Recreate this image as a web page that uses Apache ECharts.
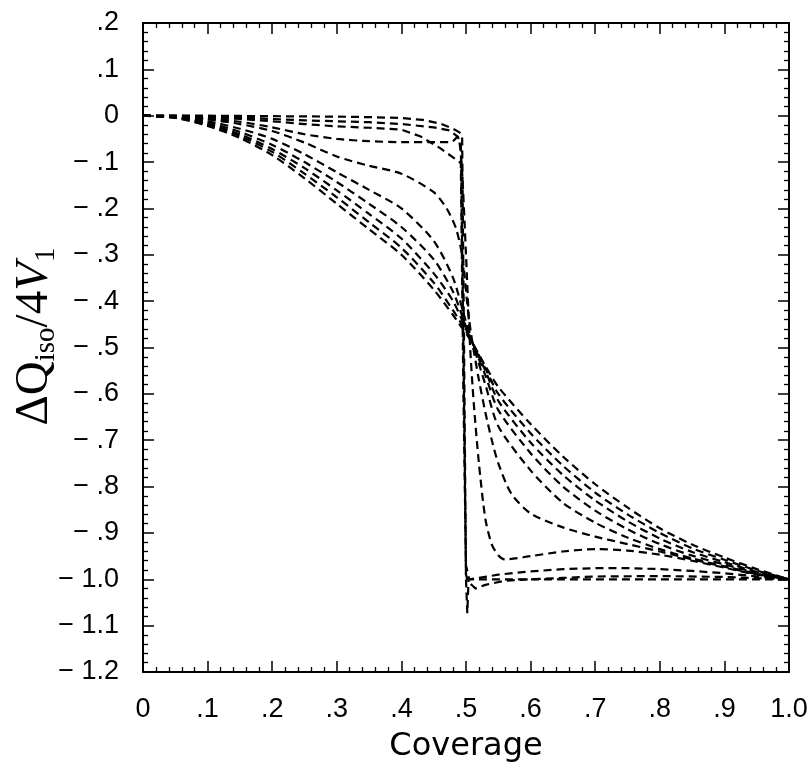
<!DOCTYPE html>
<html>
<head>
<meta charset="utf-8">
<script src="https://cdn.jsdelivr.net/npm/echarts@6/dist/echarts.min.js"></script>
<style>
html,body{margin:0;padding:0;background:#fff;}
#chart{width:807px;height:773px;}
</style>
</head>
<body>
<div id="chart"></div>
<script>
// Tick labels
const coverageTickLabels = ['0', '.1', '.2', '.3', '.4', '.5', '.6', '.7', '.8', '.9', '1.0'];
const deltaQTickLabels = ['\u2212 1.2', '\u2212 1.1', '\u2212 1.0', '\u2212 .9', '\u2212 .8', '\u2212 .7', '\u2212 .6',
  '\u2212 .5', '\u2212 .4', '\u2212 .3', '\u2212 .2', '\u2212 .1', '0', '.1', '.2'];

// Curves: [coverage, ΔQiso/4V1], lowest temperature (curve1) to highest (curve10)
const curve1 = [[0,0],[0.1,0],[0.2,-0.001],[0.3,-0.002],[0.35,-0.003],[0.4,-0.005],[0.433,-0.009],[0.46,-0.017],[0.48,-0.028],[0.49,-0.036],[0.494,-0.042],
  [0.497,-0.5],[0.5,-1.0],[0.502,-1.073],[0.504,-1.0],[0.52,-1.0],[0.6,-1.0],[0.7,-1.0],[0.8,-1.0],[0.9,-1.0],[1,-1.0]];
const curve2 = [[0,0],[0.05,0],[0.1,-0.002],[0.15,-0.004],[0.2,-0.007],[0.25,-0.01],[0.3,-0.012],[0.35,-0.014],[0.4,-0.018],[0.45,-0.025],[0.475,-0.032],[0.487,-0.045],
  [0.492,-0.06],[0.496,-0.5],[0.5,-0.99],[0.503,-1.005],[0.515,-1.02],[0.53,-1.012],[0.56,-1.003],[0.6,-1.0],[0.65,-0.997],[0.7,-0.994],[0.8,-0.993],[0.9,-0.995],[1,-1.0]];
const curve3 = [[0,0],[0.05,-0.001],[0.1,-0.003],[0.15,-0.007],[0.2,-0.012],[0.25,-0.018],[0.3,-0.023],[0.35,-0.026],[0.4,-0.03],[0.43,-0.045],[0.46,-0.07],[0.492,-0.102],
  [0.496,-0.6],[0.5,-0.97],[0.505,-1.0],[0.52,-0.997],[0.55,-0.99],[0.6,-0.983],[0.65,-0.978],[0.7,-0.976],[0.75,-0.976],[0.8,-0.978],[0.85,-0.982],[0.9,-0.987],[0.95,-0.994],[1,-1.0]];
const curve4 = [[0,0],[0.05,-0.002],[0.1,-0.006],[0.15,-0.013],[0.2,-0.025],[0.25,-0.04],[0.3,-0.05],[0.35,-0.055],[0.4,-0.057],[0.45,-0.057],[0.477,-0.057],[0.487,-0.045],
  [0.493,-0.1],[0.5,-0.3],[0.506,-0.49],[0.512,-0.62],[0.52,-0.75],[0.53,-0.87],[0.54,-0.925],[0.55,-0.948],[0.56,-0.957],[0.6,-0.95],[0.65,-0.94],[0.7,-0.935],
  [0.75,-0.938],[0.8,-0.947],[0.85,-0.96],[0.9,-0.975],[0.95,-0.99],[1,-1.0]];
const curve5 = [[0,0],[0.05,-0.002],[0.1,-0.008],[0.15,-0.018],[0.2,-0.033],[0.25,-0.058],[0.3,-0.088],[0.35,-0.108],[0.4,-0.125],[0.45,-0.165],[0.47,-0.2],[0.485,-0.245],
  [0.495,-0.31],[0.503,-0.42],[0.51,-0.49],[0.52,-0.57],[0.53,-0.64],[0.54,-0.7],[0.55,-0.75],[0.57,-0.815],[0.6,-0.858],[0.65,-0.888],[0.7,-0.908],[0.75,-0.924],
  [0.8,-0.94],[0.85,-0.957],[0.9,-0.973],[0.95,-0.989],[1,-1.0]];
const curve6 = [[0,0],[0.05,-0.003],[0.1,-0.012],[0.15,-0.028],[0.2,-0.05],[0.25,-0.083],[0.3,-0.122],[0.35,-0.16],[0.4,-0.2],[0.45,-0.27],[0.48,-0.35],[0.5,-0.445],
  [0.51,-0.49],[0.53,-0.58],[0.55,-0.67],[0.6,-0.765],[0.65,-0.835],[0.7,-0.878],[0.75,-0.91],[0.8,-0.935],[0.85,-0.955],[0.9,-0.972],[0.95,-0.988],[1,-1.0]];
const curve7 = [[0,0],[0.05,-0.003],[0.1,-0.015],[0.15,-0.035],[0.2,-0.063],[0.25,-0.1],[0.3,-0.143],[0.35,-0.19],[0.4,-0.24],[0.45,-0.31],[0.48,-0.38],[0.5,-0.455],
  [0.51,-0.49],[0.53,-0.56],[0.55,-0.635],[0.6,-0.728],[0.65,-0.8],[0.7,-0.852],[0.75,-0.892],[0.8,-0.924],[0.85,-0.949],[0.9,-0.968],[0.95,-0.986],[1,-1.0]];
const curve8 = [[0,0],[0.05,-0.004],[0.1,-0.018],[0.15,-0.04],[0.2,-0.072],[0.25,-0.113],[0.3,-0.161],[0.35,-0.212],[0.4,-0.265],[0.45,-0.34],[0.48,-0.4],[0.5,-0.46],
  [0.51,-0.49],[0.53,-0.55],[0.55,-0.615],[0.6,-0.705],[0.65,-0.775],[0.7,-0.83],[0.75,-0.875],[0.8,-0.912],[0.85,-0.941],[0.9,-0.963],[0.95,-0.984],[1,-1.0]];
const curve9 = [[0,0],[0.05,-0.004],[0.1,-0.02],[0.15,-0.044],[0.2,-0.078],[0.25,-0.125],[0.3,-0.176],[0.35,-0.23],[0.4,-0.285],[0.45,-0.36],[0.48,-0.42],[0.5,-0.465],
  [0.51,-0.49],[0.53,-0.545],[0.55,-0.6],[0.6,-0.685],[0.65,-0.755],[0.7,-0.813],[0.75,-0.86],[0.8,-0.9],[0.85,-0.933],[0.9,-0.958],[0.95,-0.981],[1,-1.0]];
const curve10 = [[0,0],[0.05,-0.005],[0.1,-0.022],[0.15,-0.048],[0.2,-0.085],[0.25,-0.135],[0.3,-0.19],[0.35,-0.245],[0.4,-0.3],[0.45,-0.375],[0.48,-0.43],[0.5,-0.47],
  [0.51,-0.49],[0.53,-0.54],[0.55,-0.585],[0.6,-0.665],[0.65,-0.735],[0.7,-0.795],[0.75,-0.845],[0.8,-0.89],[0.85,-0.925],[0.9,-0.953],[0.95,-0.978],[1,-1.0]];

const curves = [curve1, curve2, curve3, curve4, curve5, curve6, curve7, curve8, curve9, curve10];

const chart = echarts.init(document.getElementById('chart'), null, {renderer: 'canvas'});

const tickFont = {fontFamily: 'Liberation Sans', fontSize: 27, color: '#000'};
const axisLineStyle = {color: '#000', width: 2};

function xAxisCfg(pos, showLabel) {
  return {
    type: 'value', position: pos, min: 0, max: 1, interval: 0.1,
    axisLine: {show: true, onZero: false, lineStyle: axisLineStyle},
    axisTick: {show: true, inside: true, length: 11, lineStyle: {color: '#000', width: 1.5}},
    minorTick: {show: true, splitNumber: 5, length: 5, lineStyle: {color: '#000', width: 1.3}},
    splitLine: {show: false}, minorSplitLine: {show: false},
    axisLabel: Object.assign({show: showLabel, margin: 24,
      formatter: v => coverageTickLabels[Math.round(v * 10)]}, tickFont)
  };
}
function yAxisCfg(pos, showLabel) {
  return {
    type: 'value', position: pos, min: -1.2, max: 0.2, interval: 0.1,
    axisLine: {show: true, onZero: false, lineStyle: axisLineStyle},
    axisTick: {show: true, inside: true, length: 11, lineStyle: {color: '#000', width: 1.5}},
    minorTick: {show: true, splitNumber: 5, length: 5, lineStyle: {color: '#000', width: 1.3}},
    splitLine: {show: false}, minorSplitLine: {show: false},
    axisLabel: Object.assign({show: showLabel, margin: 24,
      formatter: v => deltaQTickLabels[Math.round((v + 1.2) * 10)]}, tickFont)
  };
}

const xBottom = xAxisCfg('bottom', true);
xBottom.name = 'Coverage';
xBottom.nameLocation = 'middle';
xBottom.nameGap = 59;
xBottom.nameMoveOverlap = false;
xBottom.nameTextStyle = {fontFamily: 'DejaVu Sans', fontSize: 32, color: '#000'};

const yLeft = yAxisCfg('left', true);
yLeft.name = '{q|\u0394Q}{s|iso}{q|/4}{v|V}{s|1}';
yLeft.nameLocation = 'middle';
yLeft.nameRotate = 90;
yLeft.nameGap = 82;
yLeft.nameMoveOverlap = false;
yLeft.nameTextStyle = {
  padding: [0, 0, 0, 22],
  rich: {
    q: {fontFamily: 'Liberation Serif', fontSize: 47, color: '#000', lineHeight: 52},
    v: {fontFamily: 'Liberation Serif', fontSize: 47, fontStyle: 'italic', color: '#000', lineHeight: 52},
    s: {fontFamily: 'Liberation Serif', fontSize: 29, color: '#000', verticalAlign: 'bottom', lineHeight: 30}
  }
};

chart.setOption({
  animation: false,
  backgroundColor: '#fff',
  grid: {left: 143, right: 18, top: 23, bottom: 101, containLabel: false, outerBoundsMode: 'none'},
  xAxis: [xBottom, xAxisCfg('top', false)],
  yAxis: [yLeft, yAxisCfg('right', false)],
  series: curves.map((c, i) => ({
    type: 'line',
    name: 'curve' + (i + 1),
    xAxisIndex: 0, yAxisIndex: 0,
    data: c,
    showSymbol: false,
    smooth: i >= 3 ? 0.25 : false,
    lineStyle: {color: '#000', width: 2.2, type: [8, 5]},
    z: 2
  }))
});
</script>
</body>
</html>
